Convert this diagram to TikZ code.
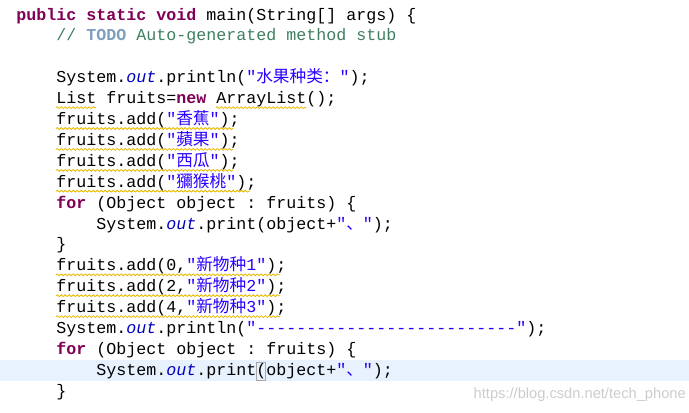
\documentclass[tikz,border=0pt]{standalone}
\usepackage{fontspec}
\setmonofont{Liberation Mono}
\setsansfont{Liberation Sans}
\newfontfamily\cjk{Noto Sans CJK SC}
\usetikzlibrary{decorations.pathmorphing}
\definecolor{kwc}{HTML}{7F0055}
\definecolor{cmc}{HTML}{3F7F5F}
\definecolor{tdc}{HTML}{7F9FBF}
\definecolor{stc}{HTML}{2A00FF}
\definecolor{fic}{HTML}{0000C0}
\definecolor{hlc}{HTML}{E8F2FE}
\definecolor{wvc}{HTML}{E6B800}
\newcommand\kw[1]{{\bfseries\color{kwc}#1}}
\newcommand\st[1]{{\color{stc}#1}}
\newcommand\ou{{\itshape\color{fic}out}}
\newcommand\cj[1]{{\cjk #1}}
\begin{document}
\begin{tikzpicture}[x=0.75pt,y=-0.75pt,
  codeline/.style={anchor=base west,inner sep=0pt,font=\ttfamily\fontsize{12.5}{14}\selectfont},
  wavy/.style={draw=wvc,line width=0.6pt,decorate,decoration={snake,segment length=3pt,amplitude=0.7pt}}]
\useasboundingbox (0,0) rectangle (689,412);
\fill[hlc] (0,360) rectangle (689,381);
\def\r#1{20+20.9*#1}
\node[codeline] (l0) at (16,{\r{0}}) {\kw{public} \kw{static} \kw{void} main(String[] args) \{};
\node[codeline] (l1) at (56,{\r{1}}) {{\color{cmc}//\ }{\bfseries\color{tdc}TODO}{\color{cmc}\ Auto-generated method stub}};
\node[codeline] (l3) at (56,{\r{3}}) {System.\ou.println(\st{"\cj{水果种类：}"});};
\node[codeline] (l4) at (56,{\r{4}}) {List fruits=\kw{new} ArrayList();};
\node[codeline] (l5) at (56,{\r{5}}) {fruits.add(\st{"\cj{香蕉}"});};
\node[codeline] (l6) at (56,{\r{6}}) {fruits.add(\st{"\cj{蘋果}"});};
\node[codeline] (l7) at (56,{\r{7}}) {fruits.add(\st{"\cj{西瓜}"});};
\node[codeline] (l8) at (56,{\r{8}}) {fruits.add(\st{"\cj{獼猴桃}"});};
\node[codeline] (l9) at (56,{\r{9}}) {\kw{for} (Object object : fruits) \{};
\node[codeline] (l10) at (96,{\r{10}}) {System.\ou.print(object+\st{"\cj{、}"});};
\node[codeline] (l11) at (56,{\r{11}}) {\}};
\node[codeline] (l12) at (56,{\r{12}}) {fruits.add(0,\st{"\cj{新物种}1"});};
\node[codeline] (l13) at (56,{\r{13}}) {fruits.add(2,\st{"\cj{新物种}2"});};
\node[codeline] (l14) at (56,{\r{14}}) {fruits.add(4,\st{"\cj{新物种}3"});};
\node[codeline] (l15) at (56,{\r{15}}) {System.\ou.println(\st{"--------------------------"});};
\node[codeline] (l16) at (56,{\r{16}}) {\kw{for} (Object object : fruits) \{};
\node[codeline] (l17) at (96,{\r{17}}) {System.\ou.print(object+\st{"\cj{、}"});};
\node[codeline] (l18) at (56,{\r{18}}) {\}};
\draw[gray!70,line width=0.5pt] (256,362) rectangle (265,380);
% wavy underlines
\foreach \i/\a/\b in {4/56/96,4/216/306,5/56/233,6/56/233,7/56/233,8/56/250,12/56/280,13/56/280,14/56/280}
  \draw[wavy] (\a,{\r{\i}+4}) -- (\b,{\r{\i}+4});
\node[anchor=base east,inner sep=0pt,font=\sffamily\fontsize{11}{13}\selectfont,text=gray!40] (wm) at (686,398) {https://blog.csdn.net/tech\_phone};
\end{tikzpicture}
\end{document}
